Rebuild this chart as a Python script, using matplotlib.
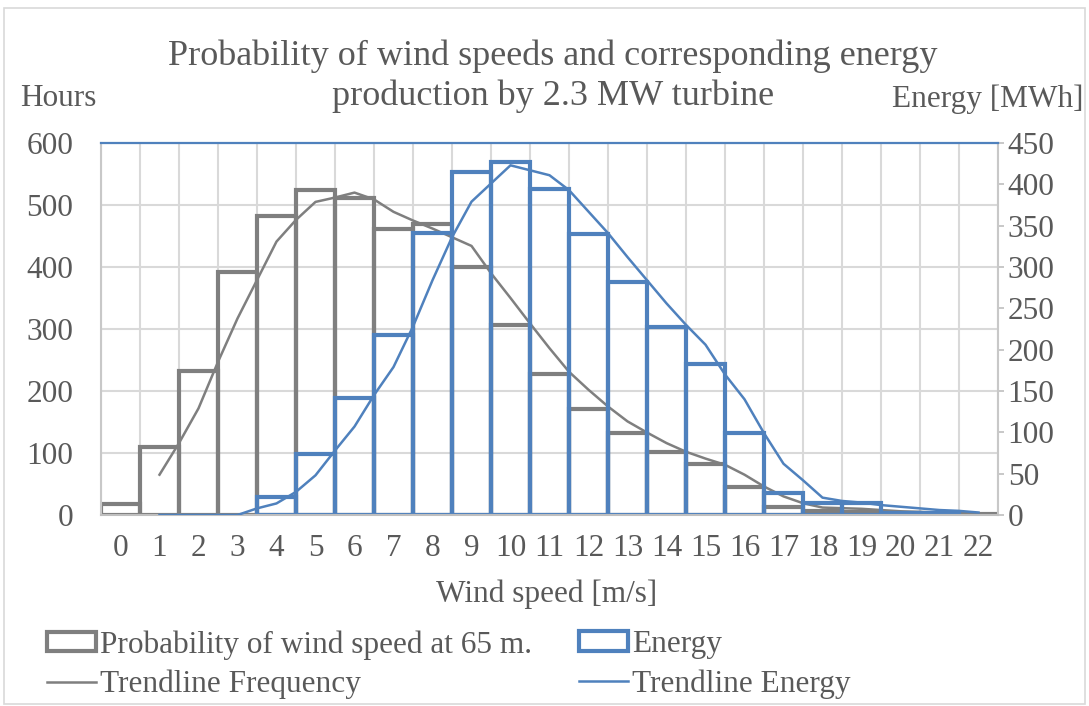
import matplotlib.pyplot as plt
import numpy as np
from matplotlib.patches import Patch, Rectangle
from matplotlib.lines import Line2D

plt.rcParams['font.family'] = ['Liberation Serif', 'DejaVu Serif']

# wind speed classes [m/s]
speeds = np.arange(23)

# hours per year in each wind speed class at 65 m
hours = [18, 110, 232, 392, 482, 525, 511, 462, 469, 400, 307, 228,
         171, 132, 102, 82, 45, 13, 7, 5, 3, 2, 1]

# energy produced by the 2.3 MW turbine in each class [MWh]
energy = [0, 0, 0, 0, 22, 74, 142, 218, 341, 415, 427, 394,
          340, 282, 228, 183, 99, 27, 14, 14, 3, 2, 0]

# trendlines, sampled every half class
trend_x = np.arange(1, 22.5, 0.5)
trend_hours = [65, 116, 172, 247, 317, 379, 441, 476, 505, 512,
               520, 509, 489, 475, 462, 448, 434, 390, 350, 309,
               269, 231, 202, 175, 151, 133, 116, 102, 91, 81,
               65, 46, 30, 19, 12, 11, 10, 8, 6, 5,
               4, 3, 2]
trend_energy = [0, 0, 0, 0, 0, 8, 14, 28, 48, 78,
                107, 145, 179, 228, 284, 336, 379, 401, 423, 417,
                411, 393, 367, 341, 312, 284, 256, 230, 206, 170,
                140, 99, 62, 42, 21, 17, 15, 12, 10, 8,
                6, 5, 3]

GRAY = '#7f7f7f'
BLUE = '#4f81bd'
TEXT = '#595959'
GRID = '#d9d9d9'
FS = 22.5

fig = plt.figure(figsize=(10.89, 7.06), dpi=100)
ax = fig.add_axes([101 / 1089, 1 - 515 / 706, 897 / 1089, 372 / 706])
ax2 = ax.twinx()

# hours on the left axis
ax.bar(speeds, hours, width=1.0, facecolor='none', edgecolor=GRAY,
       linewidth=3.0, zorder=2)
ax.plot(trend_x, trend_hours, color=GRAY, linewidth=1.8, zorder=3)

# energy on the right axis
energy = np.array(energy)
m = energy > 0
ax2.bar(speeds[m], energy[m], width=1.0, facecolor='none', edgecolor=BLUE,
        linewidth=3.0, zorder=2)
ax2.plot(trend_x, trend_energy, color=BLUE, linewidth=1.8, zorder=3)

ax.set_xlim(-0.5, 22.5)
ax.set_ylim(0, 600)
ax2.set_ylim(0, 450)

ax.set_yticks(np.arange(0, 601, 100))
ax2.set_yticks(np.arange(0, 451, 50))
ax.set_xticks(speeds)
ax.set_xticks(np.arange(-0.5, 23, 1), minor=True)

ax.set_axisbelow(True)
ax.grid(axis='y', which='major', color=GRID, linewidth=1.5)
ax.grid(axis='x', which='minor', color=GRID, linewidth=1.5)

for s in ax.spines.values():
    s.set_visible(False)
ax2.spines['top'].set_color(BLUE)
ax2.spines['top'].set_linewidth(1.6)
ax2.spines['left'].set_color('#c8c8c8')
ax2.spines['right'].set_color('#c8c8c8')
ax2.spines['bottom'].set_color('#bfbfbf')
for s in ('left', 'right', 'bottom'):
    ax2.spines[s].set_linewidth(1.5)

ax.tick_params(axis='y', length=0, pad=20, labelsize=FS, labelcolor=TEXT)
ax.tick_params(axis='x', which='both', length=0, pad=14, labelsize=FS,
               labelcolor=TEXT)
ax2.tick_params(axis='y', length=4, width=1.2, color='#bfbfbf', pad=3,
                labelsize=FS, labelcolor=TEXT)

# titles and axis captions
fig.text(0.508, 1 - 56 / 706, 'Probability of wind speeds and corresponding energy',
         ha='center', va='center', fontsize=26, color=TEXT)
fig.text(0.508, 1 - 96 / 706, 'production by 2.3 MW turbine',
         ha='center', va='center', fontsize=26, color=TEXT)
fig.text(20 / 1089, 1 - 99 / 706, 'Hours', ha='left', va='center',
         fontsize=FS, color=TEXT)
fig.text(1083 / 1089, 1 - 99 / 706, 'Energy [MWh]', ha='right', va='center',
         fontsize=FS, color=TEXT)
fig.text(547 / 1089, 1 - 594 / 706, 'Wind speed [m/s]', ha='center',
         va='center', fontsize=FS, color=TEXT)

# legend, one column per series pair
h_gray = [Patch(facecolor='none', edgecolor=GRAY, linewidth=3.0),
          Line2D([], [], color=GRAY, linewidth=1.8)]
h_blue = [Patch(facecolor='none', edgecolor=BLUE, linewidth=3.0),
          Line2D([], [], color=BLUE, linewidth=1.8)]
kw = dict(frameon=False, fontsize=FS, handlelength=1.57, handleheight=0.6,
          handletextpad=0.12, labelspacing=0.33, labelcolor=TEXT,
          borderpad=0, borderaxespad=0, loc='upper left')
fig.legend(h_gray, ['Probability of wind speed at 65 m.', 'Trendline Frequency'],
           bbox_to_anchor=(47 / 1089, 1 - 630 / 706), **kw)
fig.legend(h_blue, ['Energy', 'Trendline Energy'],
           bbox_to_anchor=(579 / 1089, 1 - 630 / 706), **kw)

# chart area border
fig.add_artist(Rectangle((4 / 1089, 2 / 706), 1081 / 1089, 696 / 706,
                         transform=fig.transFigure, fill=False,
                         edgecolor=GRID, linewidth=1.2))

fig.savefig('out.png', dpi=100)
